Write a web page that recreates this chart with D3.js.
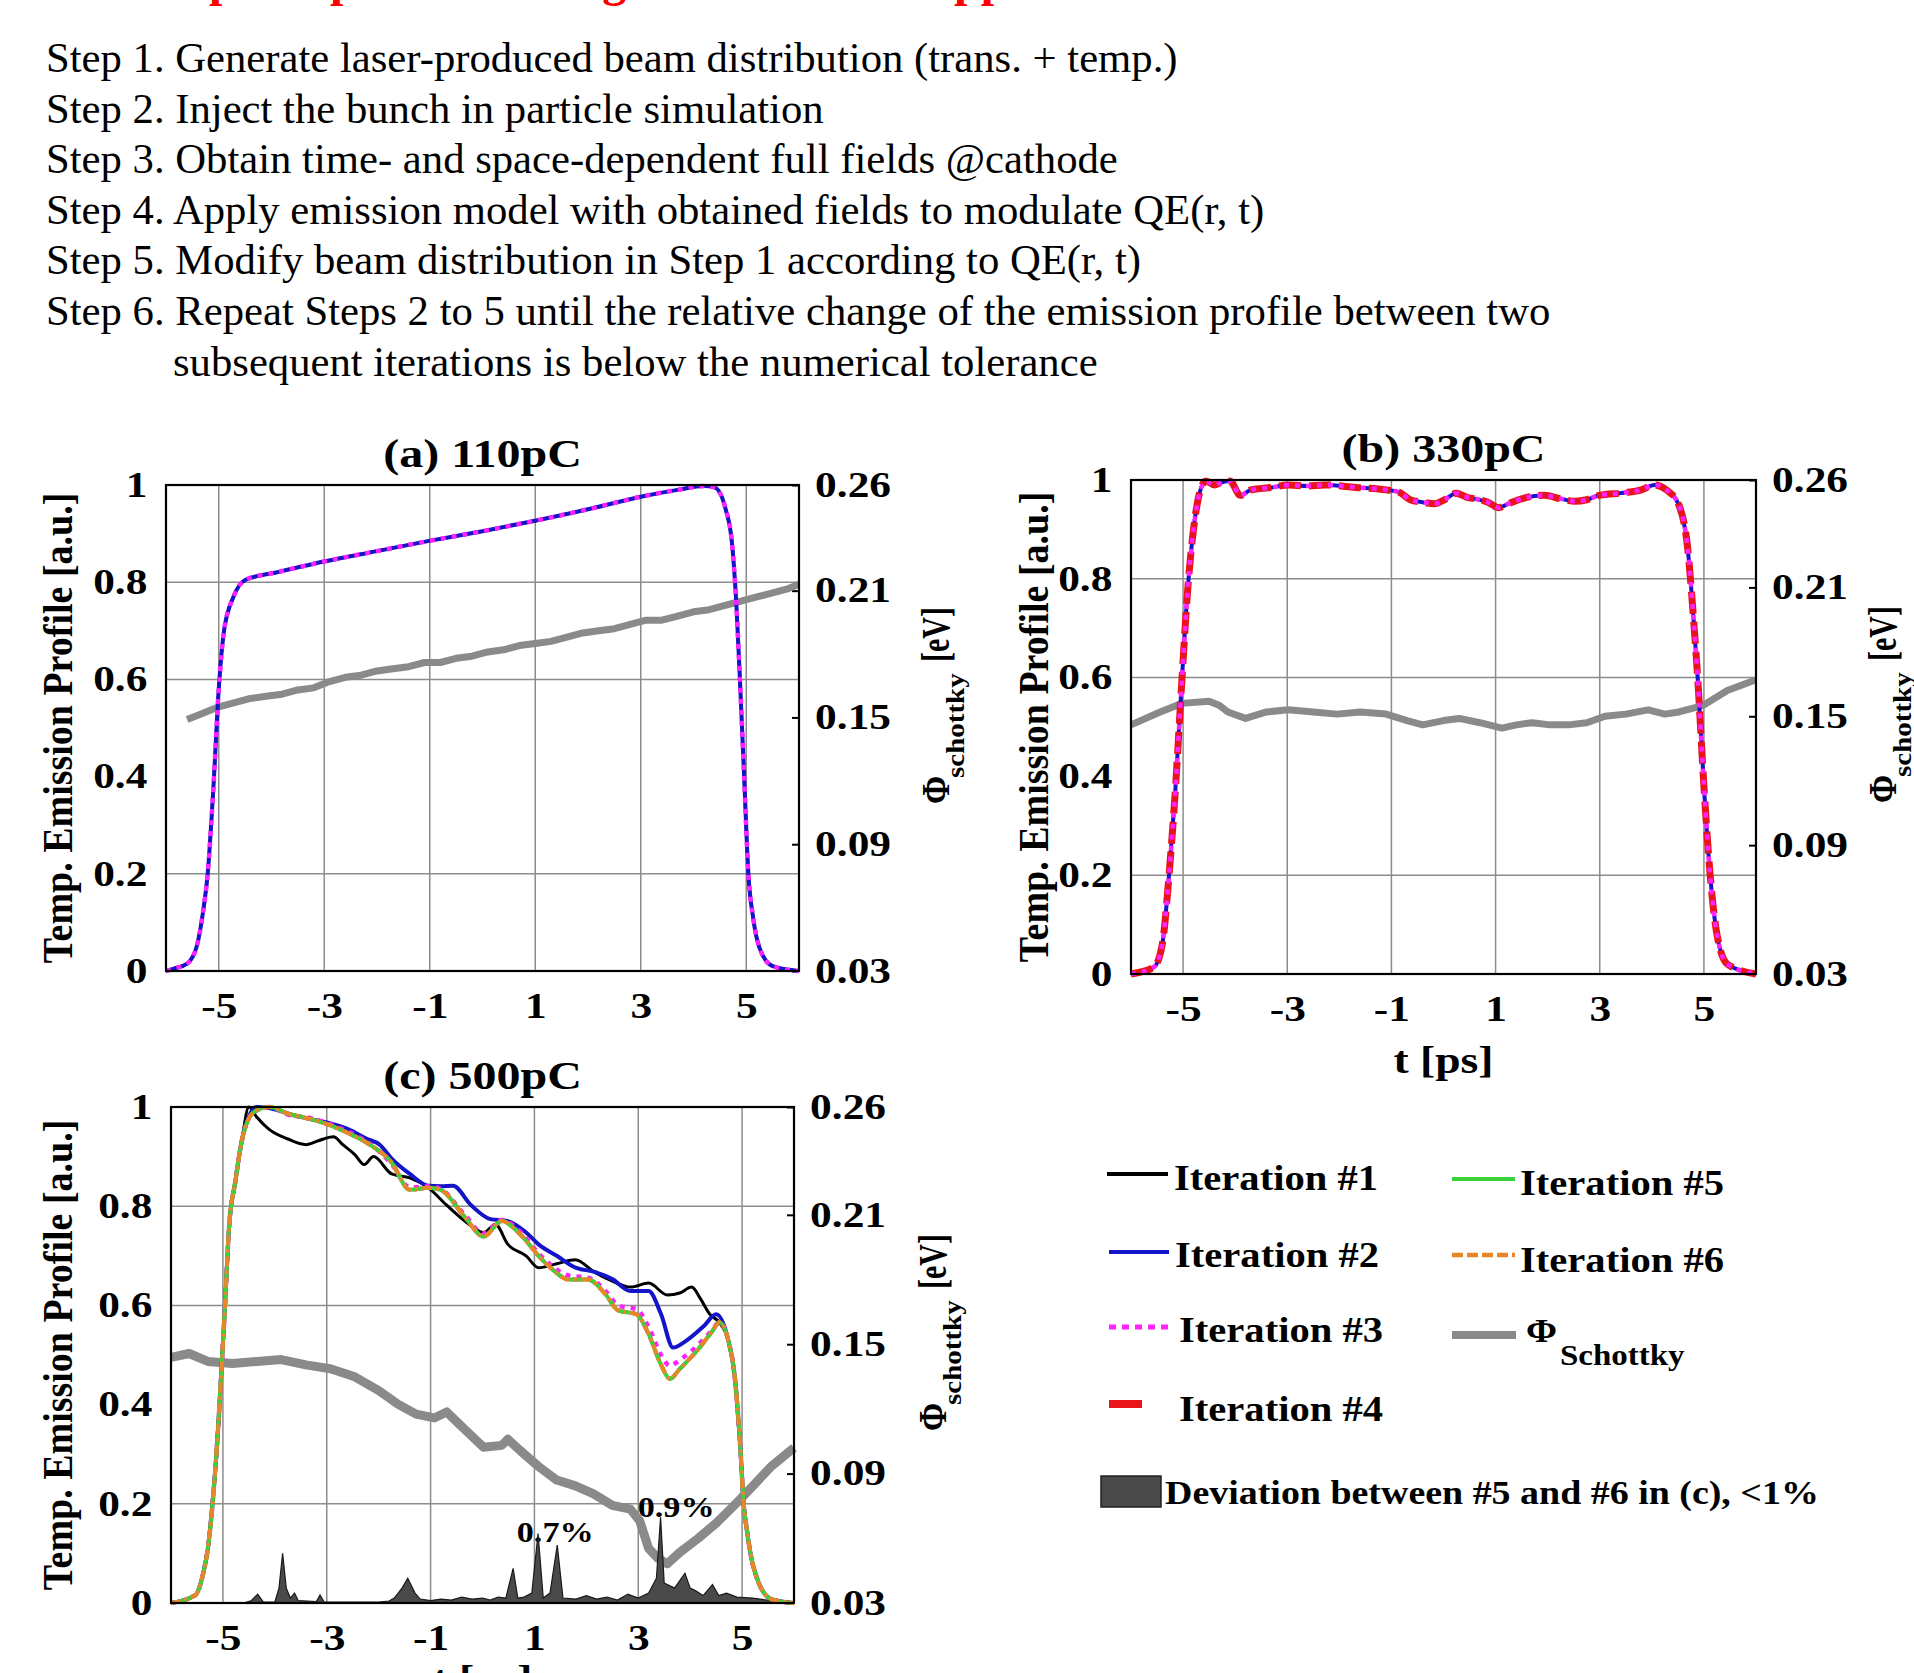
<!DOCTYPE html>
<html>
<head>
<meta charset="utf-8">
<script src="https://cdn.jsdelivr.net/npm/d3@7"></script>
<style>
  body { margin: 0; background: #fff; }
  svg { display: block; font-family: 'Liberation Serif', 'Times New Roman', serif; }
</style>
</head>
<body>
<script>
// ---------- text blocks ----------
const headingWords = ["Simple", "steps", "of", "the", "algorithm", "in", "this", "approach"];
const stepLines = [
  "Step 1. Generate laser-produced beam distribution (trans. + temp.)",
  "Step 2. Inject the bunch in particle simulation",
  "Step 3. Obtain time- and space-dependent full fields @cathode",
  "Step 4. Apply emission model with obtained fields to modulate QE(r, t)",
  "Step 5. Modify beam distribution in Step 1 according to QE(r, t)",
  "Step 6. Repeat Steps 2 to 5 until the relative change of the emission profile between two",
  "subsequent iterations is below the numerical tolerance"
];

// ---------- axes ----------
const xDomain = [-6, 6];
const xTicks = [-5, -3, -1, 1, 3, 5];
const leftTicks = [0, 0.2, 0.4, 0.6, 0.8, 1];
const gridRows = [0.2, 0.6, 0.8];
const rightDomain = [0.03, 0.26];
const rightTicks = [0.03, 0.09, 0.15, 0.21, 0.26];

// ---------- (a) 110pC ----------
const tA = [-6, -5.85, -5.6, -5.42, -5.3, -5.21, -5.1, -5.0, -4.9, -4.72, -4.49, -3.91, -2.98, -2, -1.01, 0, 1.02, 2, 3.05, 3.7, 4.2, 4.4, 4.61, 4.73, 4.81, 4.88, 4.96, 5.04, 5.13, 5.25, 5.5, 6];
const profA = [0, 0.005, 0.015, 0.05, 0.12, 0.2, 0.38, 0.58, 0.70, 0.77, 0.805, 0.82, 0.843, 0.864, 0.885, 0.905, 0.927, 0.95, 0.977, 0.99, 0.998, 0.995, 0.95, 0.88, 0.76, 0.6, 0.4, 0.2, 0.11, 0.048, 0.01, 0];
const tPhiA = [-5.6, -5.3, -5.0, -4.7, -4.4, -4.1, -3.8, -3.5, -3.2, -2.9, -2.6, -2.3, -2.0, -1.7, -1.4, -1.1, -0.8, -0.5, -0.2, 0.1, 0.4, 0.7, 1.0, 1.3, 1.6, 1.9, 2.2, 2.5, 2.8, 3.1, 3.4, 3.7, 4.0, 4.3, 4.6, 4.9, 5.2, 5.5, 5.8, 6.0];
const phiA = [0.149, 0.152, 0.155, 0.157, 0.159, 0.160, 0.161, 0.163, 0.164, 0.167, 0.169, 0.170, 0.172, 0.173, 0.174, 0.176, 0.176, 0.178, 0.179, 0.181, 0.182, 0.184, 0.185, 0.186, 0.188, 0.190, 0.191, 0.192, 0.194, 0.196, 0.196, 0.198, 0.200, 0.201, 0.203, 0.205, 0.207, 0.209, 0.211, 0.213];

// ---------- (b) 330pC ----------
const tB = [-6, -5.56, -5.4, -5.27, -5.15, -5.02, -4.91, -4.8, -4.68, -4.56, -4.4, -4.27, -4.1, -3.9, -3.7, -3.3, -2.98, -2.6, -2.28, -1.69, -1.1, -0.85, -0.64, -0.4, -0.17, 0.05, 0.24, 0.45, 0.65, 0.85, 1.06, 1.25, 1.47, 1.94, 2.25, 2.53, 2.75, 2.99, 3.46, 3.8, 4.05, 4.28, 4.52, 4.69, 4.8, 4.88, 5.0, 5.12, 5.25, 5.45, 6];
const profB = [0, 0.014, 0.06, 0.2, 0.37, 0.6, 0.78, 0.9, 0.975, 0.998, 0.99, 0.995, 0.998, 0.969, 0.98, 0.985, 0.99, 0.988, 0.99, 0.985, 0.98, 0.975, 0.96, 0.955, 0.952, 0.962, 0.973, 0.965, 0.961, 0.955, 0.944, 0.952, 0.961, 0.969, 0.962, 0.957, 0.96, 0.969, 0.974, 0.98, 0.99, 0.98, 0.949, 0.86, 0.72, 0.6, 0.38, 0.2, 0.08, 0.02, 0];
const tPhiB = [-6, -5.44, -5.02, -4.5, -4.3, -4.14, -3.8, -3.4, -2.98, -2.5, -2.04, -1.6, -1.1, -0.7, -0.4, 0, 0.3, 0.7, 1.12, 1.4, 1.7, 2.05, 2.4, 2.75, 3.1, 3.5, 3.93, 4.25, 4.52, 4.98, 5.45, 6];
const phiB = [0.146, 0.152, 0.156, 0.157, 0.155, 0.152, 0.149, 0.152, 0.153, 0.152, 0.151, 0.152, 0.151, 0.148, 0.146, 0.148, 0.149, 0.147, 0.1445, 0.146, 0.147, 0.146, 0.146, 0.147, 0.150, 0.151, 0.153, 0.151, 0.152, 0.155, 0.162, 0.167];

// ---------- (c) 500pC ----------
const tRiseC = [-6, -5.53, -5.38, -5.29, -5.2, -5.1, -4.96, -4.88, -4.76, -4.64];
const riseC = [0, 0.016, 0.06, 0.11, 0.2, 0.34, 0.6, 0.76, 0.85, 0.93];
const tFallC = [4.74, 4.85, 4.97, 5.03, 5.09, 5.18, 5.27, 5.56, 6];
const fallC = [0.527, 0.464, 0.307, 0.2, 0.149, 0.09, 0.055, 0.008, 0];
const tIter1C = [-4.5, -4.35, -4.11, -3.76, -3.4, -3.16, -2.87, -2.69, -2.46, -2.28, -2.1, -1.75, -1.4, -1.04, -0.69, -0.34, 0.02, 0.25, 0.49, 0.84, 1.08, 1.43, 1.79, 2.14, 2.5, 2.85, 3.2, 3.56, 3.8, 4.03, 4.2, 4.38, 4.56];
const iter1C = [1.0, 0.98, 0.955, 0.936, 0.924, 0.932, 0.94, 0.924, 0.904, 0.884, 0.9, 0.865, 0.857, 0.837, 0.802, 0.77, 0.747, 0.763, 0.723, 0.70, 0.676, 0.684, 0.692, 0.668, 0.649, 0.637, 0.645, 0.621, 0.625, 0.637, 0.613, 0.582, 0.566];
const tIter2C = [-4.35, -3.99, -3.63, -3.29, -2.93, -2.58, -2.23, -1.98, -1.75, -1.4, -1.04, -0.8, -0.57, -0.22, 0.15, 0.49, 0.84, 1.08, 1.43, 1.79, 2.14, 2.5, 2.85, 3.2, 3.44, 3.67, 3.9, 4.26, 4.5];
const iter2C = [1.0, 0.995, 0.983, 0.975, 0.967, 0.955, 0.936, 0.924, 0.896, 0.865, 0.841, 0.84, 0.841, 0.802, 0.774, 0.77, 0.747, 0.723, 0.70, 0.676, 0.668, 0.653, 0.629, 0.629, 0.582, 0.515, 0.527, 0.558, 0.582];
const tLateC = [-4.4, -4.1, -3.76, -3.29, -2.93, -2.58, -2.23, -1.75, -1.4, -1.04, -0.81, -0.34, 0.02, 0.37, 0.73, 1.08, 1.31, 1.67, 2.03, 2.38, 2.61, 2.97, 3.2, 3.44, 3.61, 3.8, 4.15, 4.44, 4.56];
const iter3C = [0.99, 1.0, 0.985, 0.977, 0.965, 0.95, 0.93, 0.885, 0.838, 0.84, 0.835, 0.782, 0.745, 0.772, 0.748, 0.705, 0.682, 0.66, 0.656, 0.628, 0.6, 0.592, 0.556, 0.5, 0.478, 0.49, 0.52, 0.552, 0.566];
const iter5C = [0.99, 1.0, 0.987, 0.975, 0.963, 0.947, 0.928, 0.888, 0.833, 0.837, 0.833, 0.778, 0.739, 0.77, 0.743, 0.70, 0.676, 0.652, 0.652, 0.621, 0.59, 0.582, 0.542, 0.48, 0.452, 0.472, 0.511, 0.55, 0.566];
const tPhiC = [-6, -5.65, -5.29, -4.82, -4.34, -3.88, -3.4, -2.93, -2.46, -1.99, -1.63, -1.28, -0.93, -0.69, -0.34, 0.02, 0.37, 0.49, 0.73, 1.08, 1.43, 1.79, 2.14, 2.5, 2.85, 3.03, 3.2, 3.38, 3.56, 3.8, 4.15, 4.5, 4.85, 5.21, 5.56, 6];
const phiC = [0.1439, 0.1457, 0.142, 0.1411, 0.142, 0.1429, 0.1404, 0.1386, 0.1349, 0.1284, 0.1222, 0.1176, 0.1158, 0.1186, 0.1105, 0.1022, 0.1031, 0.1059, 0.1006, 0.0933, 0.087, 0.0843, 0.0806, 0.0753, 0.0735, 0.068, 0.0553, 0.0507, 0.0482, 0.0535, 0.0599, 0.067, 0.0753, 0.0843, 0.0933, 0.102];
const tDevC = [-6, -4.6, -4.45, -4.33, -4.22, -4.0, -3.92, -3.85, -3.78, -3.7, -3.62, -3.55, -3.2, -3.13, -3.05, -2.0, -1.8, -1.7, -1.55, -1.44, -1.3, -1.2, -1.0, -0.8, -0.6, -0.4, -0.2, 0.0, 0.15, 0.3, 0.45, 0.59, 0.68, 0.8, 0.95, 1.07, 1.17, 1.3, 1.44, 1.55, 1.8, 2.0, 2.2, 2.4, 2.6, 2.8, 3.0, 3.2, 3.35, 3.43, 3.5, 3.7, 3.8, 3.9, 4.0, 4.1, 4.25, 4.43, 4.55, 4.7, 4.9, 5.2, 5.6, 6];
const devC = [0, 0, 0.005, 0.018, 0.002, 0.002, 0.03, 0.10, 0.03, 0.01, 0.02, 0.005, 0.003, 0.016, 0.002, 0.002, 0.004, 0.01, 0.03, 0.05, 0.02, 0.008, 0.005, 0.008, 0.006, 0.012, 0.008, 0.01, 0.006, 0.012, 0.01, 0.07, 0.01, 0.012, 0.02, 0.14, 0.01, 0.02, 0.117, 0.01, 0.008, 0.015, 0.008, 0.012, 0.006, 0.018, 0.01, 0.02, 0.05, 0.173, 0.04, 0.03, 0.045, 0.06, 0.03, 0.025, 0.015, 0.037, 0.015, 0.02, 0.012, 0.01, 0.004, 0];
const devLabels = ["0.7%", "0.9%"];
const devLabelT = [0.66, 2.99];
const devLabelV = [0.123, 0.173];

// ---------- legend ----------
const legendNames = ["Iteration #1", "Iteration #2", "Iteration #3", "Iteration #4", "Iteration #5", "Iteration #6"];
const legendPhi = ["\u03A6", "Schottky"];
const legendDev = "Deviation between #5 and #6 in (c), <1%";

// ---------- drawing ----------
const W = 1914, H = 1673;
const FONT = "'Liberation Serif','Times New Roman',serif";
const svg = d3.select("body").append("svg").attr("width", W).attr("height", H);
svg.append("rect").attr("width", W).attr("height", H).attr("fill", "#fff");

const styles = {
  it1: { stroke: "#000000", width: 3 },
  it2: { stroke: "#1414c8", width: 4 },
  it3: { stroke: "#ff22ff", width: 4.5, dash: "5,6" },
  it4: { stroke: "#e8141a", width: 7, dash: "22,8" },
  it4c: { stroke: "#e53a1e", width: 4, dash: "10,5" },
  it5: { stroke: "#3cd23c", width: 4 },
  it6: { stroke: "#e8862a", width: 4, dash: "10,4,3,4" },
  phi: { stroke: "#8a8a8a", width: 8 }
};

// heading (only its lower edge shows, as in the slide) and the step list
const heading = svg.append("text").attr("y", -4).attr("fill", "#ff0000")
  .attr("font-size", 48).attr("font-weight", "bold");
const headingX = [129, 274, 392, 445, 565, 790, 840, 930];
headingWords.forEach((w, i) => heading.append("tspan").attr("x", headingX[i]).text(w));

svg.selectAll("text.step").data(stepLines).join("text")
  .attr("class", "step")
  .attr("x", (d, i) => i === 6 ? 173 : 46)
  .attr("y", (d, i) => 72 + i * 50.6)
  .attr("font-size", 42.7)
  .text(d => d);

// figure text is a bit stretched sideways in the source picture
function stext(x, y, str, size, sx, anchor) {
  return svg.append("text")
    .attr("transform", `translate(${x},${y}) scale(${sx},1)`)
    .attr("text-anchor", anchor || "start")
    .attr("font-size", size).attr("font-weight", "bold")
    .text(str);
}
function vtext(x, y, str, size, k, anchor) {
  return svg.append("text")
    .attr("transform", `translate(${x},${y}) rotate(-90) scale(1,${k})`)
    .attr("text-anchor", anchor || "start")
    .attr("font-size", size).attr("font-weight", "bold")
    .text(str);
}

function panel(box, cfg) {
  const g = svg.append("g");
  const x = d3.scaleLinear().domain(xDomain).range([box.l, box.r]);
  const yL = d3.scaleLinear().domain([0, 1]).range([box.b, box.t]);
  const yR = d3.scaleLinear().domain(rightDomain).range([box.b, box.t]);

  g.selectAll("line.vg").data(xTicks).join("line").attr("class", "vg")
    .attr("x1", d => x(d)).attr("x2", d => x(d)).attr("y1", box.t).attr("y2", box.b)
    .attr("stroke", "#8c8c8c").attr("stroke-width", 1.5);
  g.selectAll("line.hg").data(gridRows).join("line").attr("class", "hg")
    .attr("x1", box.l).attr("x2", box.r).attr("y1", d => yL(d)).attr("y2", d => yL(d))
    .attr("stroke", "#8c8c8c").attr("stroke-width", 1.5);

  const styleAxis = (a) => {
    a.select(".domain").remove();
    a.selectAll("text").attr("font-family", FONT).attr("font-size", 35)
      .attr("font-weight", "bold").attr("fill", "#000")
      .attr("transform", "scale(1.24,1)");
    a.selectAll(".tick line").attr("stroke", "#000").attr("stroke-width", 2);
  };
  g.append("g").attr("transform", `translate(0,${box.b})`)
    .call(d3.axisBottom(x).tickValues(xTicks).tickSize(0).tickPadding(22).tickFormat(d => String(d)))
    .call(styleAxis);
  g.append("g").attr("transform", `translate(${box.l},0)`)
    .call(d3.axisLeft(yL).tickValues(leftTicks).tickSize(0).tickPadding(15).tickFormat(d => String(d)))
    .call(styleAxis);
  g.append("g").attr("transform", `translate(${box.r},0)`)
    .call(d3.axisRight(yR).tickValues(rightTicks).tickSizeInner(-7).tickSizeOuter(0).tickPadding(13).tickFormat(d => d.toFixed(2)))
    .call(styleAxis);

  const lineL = d3.line().x(d => x(d[0])).y(d => yL(d[1])).curve(d3.curveMonotoneX);
  const lineR = d3.line().x(d => x(d[0])).y(d => yR(d[1])).curve(d3.curveLinear);

  // Schottky term on the right axis
  g.append("path").datum(d3.zip(cfg.phiT, cfg.phi)).attr("d", lineR)
    .attr("fill", "none").attr("stroke", styles.phi.stroke).attr("stroke-width", cfg.phiWidth)
    .attr("stroke-linejoin", "round");

  if (cfg.extra) cfg.extra(g, x, yL);

  cfg.series.forEach(s => {
    const st = styles[s.style];
    g.append("path").datum(d3.zip(s.t, s.v)).attr("d", lineL)
      .attr("fill", "none").attr("stroke", st.stroke).attr("stroke-width", st.width)
      .attr("stroke-dasharray", st.dash || null).attr("stroke-linejoin", "round");
  });

  g.append("rect").attr("x", box.l).attr("y", box.t)
    .attr("width", box.r - box.l).attr("height", box.b - box.t)
    .attr("fill", "none").attr("stroke", "#000").attr("stroke-width", 2.2);

  const cx = (box.l + box.r) / 2, cy = (box.t + box.b) / 2;
  stext(cx, box.t - 18, cfg.title, 40, 1.2, "middle");
  if (cfg.xlabelY) stext(cx, box.b + cfg.xlabelY, "t [ps]", 38, 1.2, "middle");
  vtext(cfg.leftLabelX, cy, "Temp. Emission Profile [a.u.]", 38, 1.12, "middle");
  const rx = box.r + cfg.rightLabelDx;
  vtext(rx, cy + 76, "\u03A6", 34, 1.15);
  vtext(rx + 15, cy + 50, "schottky", 29, 0.85);
  vtext(rx, cy - 66, "[eV]", 30, 1.35);
}

const boxA = { l: 166, r: 799, t: 485, b: 971 };
const boxB = { l: 1131, r: 1756, t: 480, b: 974 };
const boxC = { l: 171, r: 794, t: 1107, b: 1603 };

panel(boxA, {
  title: "(a) 110pC", leftLabelX: 72, rightLabelDx: 150, phiWidth: 7,
  phiT: tPhiA, phi: phiA,
  series: [
    { t: tA, v: profA, style: "it1" },
    { t: tA, v: profA, style: "it2" },
    { t: tA, v: profA, style: "it3" }
  ]
});

panel(boxB, {
  title: "(b) 330pC", leftLabelX: 1048, rightLabelDx: 140, phiWidth: 7, xlabelY: 99,
  phiT: tPhiB, phi: phiB,
  series: [
    { t: tB, v: profB, style: "it2" },
    { t: tB, v: profB, style: "it4" },
    { t: tB, v: profB, style: "it3" }
  ]
});

const joinC = (tm, vm) => [tRiseC.concat(tm, tFallC), riseC.concat(vm, fallC)];
const c1 = joinC(tIter1C, iter1C), c2 = joinC(tIter2C, iter2C);
const c3 = joinC(tLateC, iter3C), c5 = joinC(tLateC, iter5C);

panel(boxC, {
  title: "(c) 500pC", leftLabelX: 72, rightLabelDx: 152, phiWidth: 9, xlabelY: 89,
  phiT: tPhiC, phi: phiC,
  extra: (g, x, yL) => {
    devLabels.forEach((s, i) => {
      g.append("text")
        .attr("transform", `translate(${x(devLabelT[i])},${yL(devLabelV[i])}) scale(1.14,1)`)
        .attr("font-size", 30).attr("font-weight", "bold").text(s);
    });
    const area = d3.area().x(d => x(d[0])).y0(yL(0)).y1(d => yL(d[1]));
    g.append("path").datum(d3.zip(tDevC, devC)).attr("d", area)
      .attr("fill", "#4a4a4a").attr("stroke", "#1a1a1a").attr("stroke-width", 1.2);
  },
  series: [
    { t: c1[0], v: c1[1], style: "it1" },
    { t: c2[0], v: c2[1], style: "it2" },
    { t: c3[0], v: c3[1], style: "it3" },
    { t: c5[0], v: c5[1], style: "it4c" },
    { t: c5[0], v: c5[1], style: "it5" },
    { t: c5[0], v: c5[1], style: "it6" }
  ]
});

// ---------- legend ----------
const leg = svg.append("g");
const legRows = [
  { x1: 1107, x2: 1168, y: 1174, tx: 1174, ty: 1190, s: "it1", w: 4 },
  { x1: 1109, x2: 1169, y: 1252, tx: 1175, ty: 1267, s: "it2", w: 4 },
  { x1: 1109, x2: 1169, y: 1327, tx: 1179, ty: 1342, s: "it3", w: 5, dash: "7,6" },
  { x1: 1109, x2: 1142, y: 1404, tx: 1179, ty: 1421, s: "it4", w: 8 },
  { x1: 1452, x2: 1515, y: 1179, tx: 1520, ty: 1195, s: "it5", w: 4 },
  { x1: 1452, x2: 1515, y: 1255, tx: 1520, ty: 1272, s: "it6", w: 4.5, dash: "11,4" }
];
legRows.forEach((r, i) => {
  leg.append("line").attr("x1", r.x1).attr("x2", r.x2).attr("y1", r.y).attr("y2", r.y)
    .attr("stroke", styles[r.s].stroke).attr("stroke-width", r.w)
    .attr("stroke-dasharray", r.dash || null);
  stext(r.tx, r.ty, legendNames[i], 35, 1.16);
});
leg.append("line").attr("x1", 1452).attr("x2", 1516).attr("y1", 1335).attr("y2", 1335)
  .attr("stroke", styles.phi.stroke).attr("stroke-width", 8);
stext(1526, 1342, legendPhi[0], 34, 1.1);
stext(1560, 1365, legendPhi[1], 30, 1.1);
leg.append("rect").attr("x", 1101).attr("y", 1476).attr("width", 60).attr("height", 31)
  .attr("fill", "#4a4a4a").attr("stroke", "#222").attr("stroke-width", 1.5);
stext(1165, 1504, legendDev, 33, 1.15);
</script>
</body>
</html>
